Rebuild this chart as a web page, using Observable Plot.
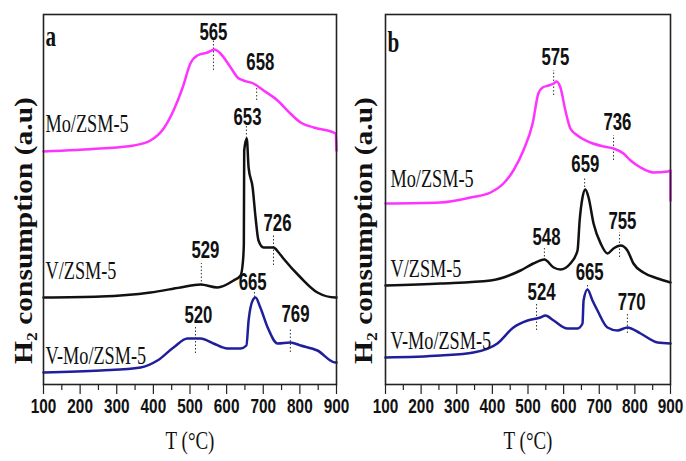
<!DOCTYPE html>
<html><head><meta charset="utf-8">
<script src="https://cdn.jsdelivr.net/npm/d3@7"></script>
<script src="https://cdn.jsdelivr.net/npm/@observablehq/plot@0.6"></script>
<style>
body{margin:0;background:#fff;}
#wrap{position:relative;width:686px;height:461px;overflow:hidden;}
#wrap svg{position:absolute;top:0;}
</style></head><body><div id="wrap"></div>
<script>
// ---- axis ticks ----
const xTicks = [100,200,300,400,500,600,700,800,900];
const xMinor = [150,250,350,450,550,650,750,850];
const seriesNames = ["Mo/ZSM-5","V/ZSM-5","V-Mo/ZSM-5"];
const seriesColors = ["#ff33ff","#111111","#1f1f9c"];
const xTitle = "T (°C)";
const yTitle = "H₂ consumption (a.u)";

// ---- panel a ----
const aMoT = [100,256,346,392,428,455,480,501,520,548,567,583,611,630,646,673,701,739,774,802,838,898,900];
const aMoV = [233,236,239,244,256,274,297,321,329,332,335,331,317,307,304,301,294,284,271,262,257,251,234];
const aVT = [100,256,392,474,529,575,619,638,644,647,648,655,660,671,679,687,701,720,728,742,755,802,848,897,900];
const aVV = [87,88,92,97,100,97,104,109,121,140,234,246,217,197,167,144,137,137,137,132,126,107,92,87,87];
const aVMoT = [100,256,365,411,455,493,529,564,602,638,654,660,671,679,692,712,739,774,802,848,897,900];
const aVMoV = [12,14,17,24,37,46,46,41,36,36,39,64,84,87,77,57,41,42,39,34,22,22];
const aPeakLabel = ["565","658","653","726","529","665","520","769"];
const aPeakTextT = [564,692,657,739,542,671,523,788];
const aPeakTextV = [352,322,267,161,134,102,69,70];
const aPeakLineT = [564,682,654,728,531,676,515,774];
const aPeakLineV1 = [314,284,246,119,99,87,31,32];
const aPeakLineV2 = [344,301,259,149,121,92,57,56];
const aNameV = [261,114,29];

// ---- panel b ----
const bMoT = [100,254,339,395,431,459,487,513,529,541,558,572,580,591,605,619,639,675,712,740,768,788,816,852,892,900,900];
const bMoV = [181,182,187,192,201,214,234,261,291,297,299,301,303,297,274,256,249,242,238,236,231,224,217,212,213,214,184];
const bVT = [100,254,395,479,515,546,572,591,619,639,645,653,661,670,684,704,723,740,760,779,796,824,864,900];
const bVV = [99,101,104,114,121,125,117,115,121,134,164,187,195,187,161,141,131,136,139,134,121,112,106,102];
const bVMoT = [100,254,347,414,459,499,535,549,572,611,639,653,656,667,681,695,723,751,779,816,864,900];
const bVMoV = [27,29,32,41,57,64,67,69,64,56,56,61,84,95,84,74,57,54,57,51,42,41];
const bPeakLabel = ["575","736","659","548","755","665","524","770"];
const bPeakTextT = [577,751,661,552,765,673,538,791];
const bPeakTextV = [327,262,220,147,163,112,92,82];
const bPeakLineT = [572,740,659,546,757,667,524,779];
const bPeakLineV1 = [289,224,197,124,127,94,54,51];
const bPeakLineV2 = [314,249,207,136,152,101,81,71];
const bNameV = [206,116,44];

const SANS = "'Liberation Sans', Arial, sans-serif";
const SERIF = "'Liberation Serif', 'Times New Roman', serif";

function zip(T, V) { return T.map((t, i) => ({t, v: V[i]})); }

function panel(cfg) {
  const peaks = cfg.peakLabel.map((s, i) => ({s, tt: cfg.peakTextT[i], tv: cfg.peakTextV[i], lt: cfg.peakLineT[i], l1: cfg.peakLineV1[i], l2: cfg.peakLineV2[i]}));
  const names = seriesNames.map((s, i) => ({s, v: cfg.nameV[i]}));
  const marks = [
    Plot.ruleX(peaks, {x: "lt", y1: "l1", y2: "l2", stroke: "#333", strokeWidth: 1, strokeDasharray: "1.5,2"}),
    ...cfg.series.map((s, i) => Plot.line(zip(s[0], s[1]), {x: "t", y: "v", stroke: seriesColors[i], strokeWidth: 2.5, curve: "monotone-x"})),
    Plot.text(peaks, {x: "tt", y: "tv", text: "s", fontSize: 23, fontWeight: "bold", fontFamily: SANS, fill: "#111"}),
    Plot.text(names, {x: 100, y: "v", text: "s", textAnchor: "start", dx: cfg.nameDx, fontSize: 25, fontFamily: SERIF, fill: "#111"}),
    Plot.text([cfg.letter], {x: 100, y: cfg.letterV, text: d => d, textAnchor: "start", dx: 2, fontSize: 29, fontWeight: "bold", fontFamily: SERIF, fill: "#111"}),
    Plot.text([xTitle], {x: 500, y: -56, text: d => d, fontSize: 26, fontFamily: SERIF, fill: "#111"}),
    Plot.text([yTitle], {x: 100, y: 154, text: d => d, rotate: -90, dx: cfg.yDx, fontSize: 29.5, fontWeight: "bold", fontFamily: SERIF, fill: "#111"}),
    Plot.axisX(xMinor, {tickSize: 6, tickFormat: () => "", stroke: "#222", strokeWidth: 1.2, label: null}),
    Plot.axisX(xTicks, {tickSize: 10, tickPadding: 4, fontSize: 21, fontWeight: "bold", fontFamily: SANS, fill: "#111", stroke: "#222", strokeWidth: 1.2, tickFormat: d => String(d), label: null}),
    Plot.frame({stroke: "#222", strokeWidth: 1.6})
  ];
  const svg = Plot.plot({
    width: 343, height: 461,
    marginLeft: cfg.ml, marginRight: cfg.mr, marginTop: 14, marginBottom: 77,
    x: {domain: [100, 900]},
    y: {domain: [0, 370], axis: null},
    style: {background: "transparent", overflow: "visible", color: "#111"},
    marks
  });
  // horizontally condensed typography as in the reference
  svg.querySelectorAll("text").forEach(t => {
    const tr = t.getAttribute("transform") || "";
    if (/rotate/.test(tr)) t.setAttribute("transform", tr + " scale(1,0.85)");
    else t.setAttribute("transform", tr + " scale(0.73,1)");
  });
  svg.style.left = cfg.left + "px";
  return svg;
}

const wrap = document.getElementById("wrap");
wrap.appendChild(panel({
  left: 0, ml: 43, mr: 7, letter: "a", letterV: 348, nameDx: 2, yDx: -20,
  series: [[aMoT, aMoV], [aVT, aVV], [aVMoT, aVMoV]],
  peakLabel: aPeakLabel, peakTextT: aPeakTextT, peakTextV: aPeakTextV,
  peakLineT: aPeakLineT, peakLineV1: aPeakLineV1, peakLineV2: aPeakLineV2, nameV: aNameV
}));
wrap.appendChild(panel({
  left: 343, ml: 42, mr: 16, letter: "b", letterV: 342, nameDx: 5, yDx: -22,
  series: [[bMoT, bMoV], [bVT, bVV], [bVMoT, bVMoV]],
  peakLabel: bPeakLabel, peakTextT: bPeakTextT, peakTextV: bPeakTextV,
  peakLineT: bPeakLineT, peakLineV1: bPeakLineV1, peakLineV2: bPeakLineV2, nameV: bNameV
}));
</script></body></html>
